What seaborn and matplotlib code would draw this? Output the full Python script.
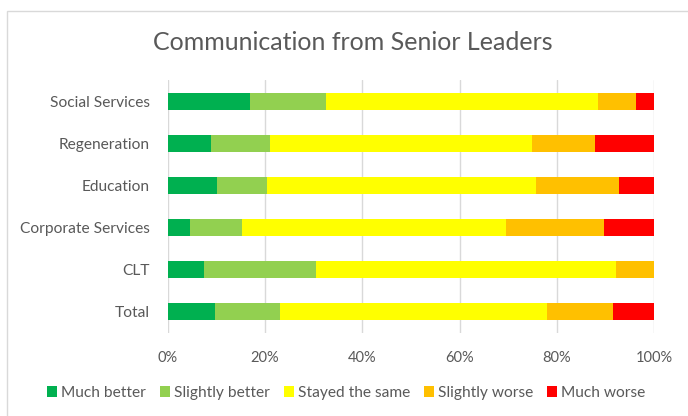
import numpy as np
import pandas as pd
import matplotlib
matplotlib.use("Agg")
import matplotlib.pyplot as plt
from matplotlib.patches import Patch, Rectangle
import seaborn as sns

# Survey responses (% of staff) per directorate
categories = ["Social Services", "Regeneration", "Education",
              "Corporate Services", "CLT", "Total"]
responses = ["Much better", "Slightly better", "Stayed the same",
             "Slightly worse", "Much worse"]
much_better = [16.9, 9.0, 10.1, 4.5, 7.5, 9.8]
slightly_better = [15.6, 12.0, 10.3, 10.8, 22.9, 13.2]
stayed_same = [55.9, 53.9, 55.3, 54.2, 61.8, 55.0]
slightly_worse = [7.9, 12.9, 17.1, 20.2, 7.8, 13.6]
much_worse = [3.7, 12.2, 7.2, 10.3, 0.0, 8.4]
xticks = [0, 20, 40, 60, 80, 100]
xtick_labels = ["0%", "20%", "40%", "60%", "80%", "100%"]

colors = ["#00B050", "#92D050", "#FFFF00", "#FFC000", "#FF0000"]
text_color = "#595959"

sns.set_theme(style="white")
plt.rcParams["font.family"] = ["Lato", "DejaVu Sans"]

series = [much_better, slightly_better, stayed_same, slightly_worse, much_worse]
df = pd.DataFrame({r: v for r, v in zip(responses, series)}, index=categories)
cum = df.cumsum(axis=1)

fig = plt.figure(figsize=(6.88, 4.16), dpi=100)
ax = fig.add_axes([167.7 / 688, 1 - 333 / 416, (654.2 - 167.7) / 688, 253 / 416])

# Stacked horizontal bars: draw cumulative totals from the outermost segment inward
for resp, col in reversed(list(zip(responses, colors))):
    d = pd.DataFrame({"category": categories, "value": cum[resp].values})
    sns.barplot(data=d, x="value", y="category", order=categories,
                color=col, saturation=1, width=0.4, linewidth=0, ax=ax)

ax.set_xlim(0, 100)
ax.set_xticks(xticks)
ax.set_xticklabels(xtick_labels)
ax.set_xlabel("")
ax.set_ylabel("")
ax.grid(axis="x", color="#d9d9d9", linewidth=1)
ax.grid(axis="y", visible=False)
ax.set_axisbelow(True)
for s in ax.spines.values():
    s.set_visible(False)
ax.tick_params(axis="x", length=0, labelsize=10.5, labelcolor=text_color, pad=13)
ax.tick_params(axis="y", length=0, labelsize=11.2, labelcolor=text_color, pad=13)

fig.text(352.5 / 688, 1 - 43 / 416, "Communication from Senior Leaders",
         ha="center", va="center", fontsize=18, color=text_color)

handles = [Patch(facecolor=c, edgecolor="none", label=r) for r, c in zip(responses, colors)]
fig.legend(handles=handles, loc="center", bbox_to_anchor=(346 / 688, 1 - 393 / 416),
           ncol=5, frameon=False, fontsize=11.2, labelcolor=text_color,
           handlelength=0.65, handleheight=0.65, handletextpad=0.25, columnspacing=0.9)

# Chart area border
fig.patches.append(Rectangle((7 / 688, -0.1), 1.2, 1 - 11 / 416 + 0.1,
                             transform=fig.transFigure, fill=False,
                             edgecolor="#d9d9d9", linewidth=1))

fig.savefig("out.png", dpi=100, facecolor="white")
